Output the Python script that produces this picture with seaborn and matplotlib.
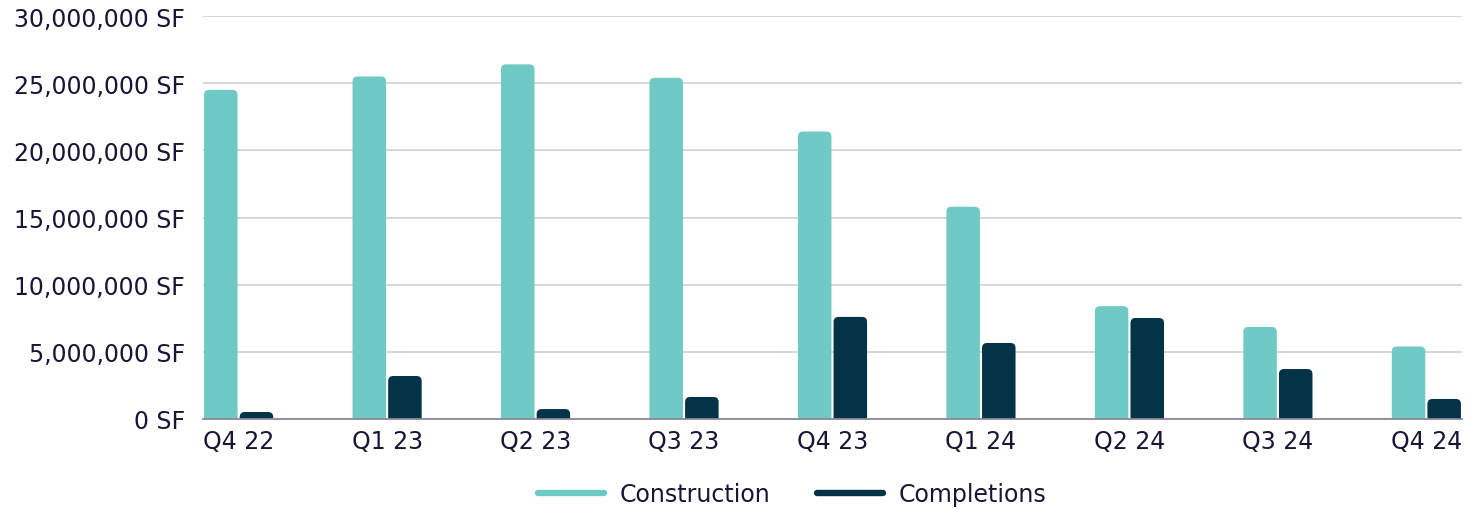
import matplotlib
matplotlib.use("Agg")
import matplotlib.pyplot as plt
import seaborn as sns
import pandas as pd
from matplotlib.patches import FancyBboxPatch
from matplotlib.lines import Line2D
from matplotlib.ticker import FuncFormatter

quarters = ["Q4 22", "Q1 23", "Q2 23", "Q3 23", "Q4 23", "Q1 24", "Q2 24", "Q3 24", "Q4 24"]
construction = [24500000, 25500000, 26400000, 25400000, 21400000, 15800000, 8400000, 6850000, 5400000]
completions = [520000, 3200000, 740000, 1640000, 7600000, 5660000, 7520000, 3720000, 1490000]
series = ["Construction", "Completions"]
colors = ["#6fc9c5", "#033347"]

df = pd.DataFrame({
    "Quarter": quarters * 2,
    "Series": [series[0]] * len(quarters) + [series[1]] * len(quarters),
    "Value": construction + completions,
})

sns.set_theme(style="white")
plt.rcParams["font.family"] = ["DejaVu Sans"]
text_color = "#1b1436"
fs = 17

fig = plt.figure(figsize=(14.78, 5.10), dpi=100)
ax = fig.add_axes([203 / 1478, 1 - 420 / 510, (1462 - 203) / 1478, (420 - 17) / 510])

sns.barplot(data=df, x="Quarter", y="Value", hue="Series", palette=colors,
            width=0.48, gap=0.06, ax=ax, legend=False, saturation=1, linewidth=0)

ax.set_xlim(-0.24, len(quarters) - 1 + 0.24)
ax.set_ylim(0, 30000000)

# Rounded top corners
xpp = (ax.get_xlim()[1] - ax.get_xlim()[0]) / (1462 - 203)
ypp = 30000000 / (420 - 17)
r_px = 5
for p in list(ax.patches):
    x, y = p.get_x(), p.get_y()
    w, h = p.get_width(), p.get_height()
    fc = p.get_facecolor()
    p.remove()
    ry = r_px * ypp
    fb = FancyBboxPatch((x, y - ry), w, h + ry,
                        boxstyle=f"round,pad=0,rounding_size={r_px * xpp}",
                        mutation_aspect=ypp / xpp, facecolor=fc, edgecolor="none",
                        zorder=2)
    ax.add_patch(fb)
    fb.set_clip_path(ax.patch)

ax.set_yticks(range(0, 30000001, 5000000))
ax.yaxis.set_major_formatter(FuncFormatter(lambda v, _: f"{int(v):,} SF"))
ax.grid(axis="y", color="#d4d3da", linewidth=1.3, zorder=0)
ax.grid(axis="x", visible=False)
ax.set_axisbelow(True)
for s in ["top", "right", "left"]:
    ax.spines[s].set_visible(False)
ax.spines["bottom"].set_color("#8d8898")
ax.spines["bottom"].set_linewidth(1.3)
ax.spines["bottom"].set_zorder(3)
ax.tick_params(axis="both", length=0, labelsize=fs, colors=text_color)
ax.tick_params(axis="y", pad=13)
ax.tick_params(axis="x", pad=7)
ax.set_xlabel("")
ax.set_ylabel("")

handles = [Line2D([0], [0], color=c, lw=4.6, solid_capstyle="round") for c in colors]
leg = fig.legend(handles, series, loc="center", bbox_to_anchor=(792 / 1478, 1 - 495 / 510),
                 ncol=2, frameon=False, fontsize=fs, handlelength=2.8, columnspacing=2.0,
                 handletextpad=0.65)
for t in leg.get_texts():
    t.set_color(text_color)

fig.savefig("out.png", dpi=100)
